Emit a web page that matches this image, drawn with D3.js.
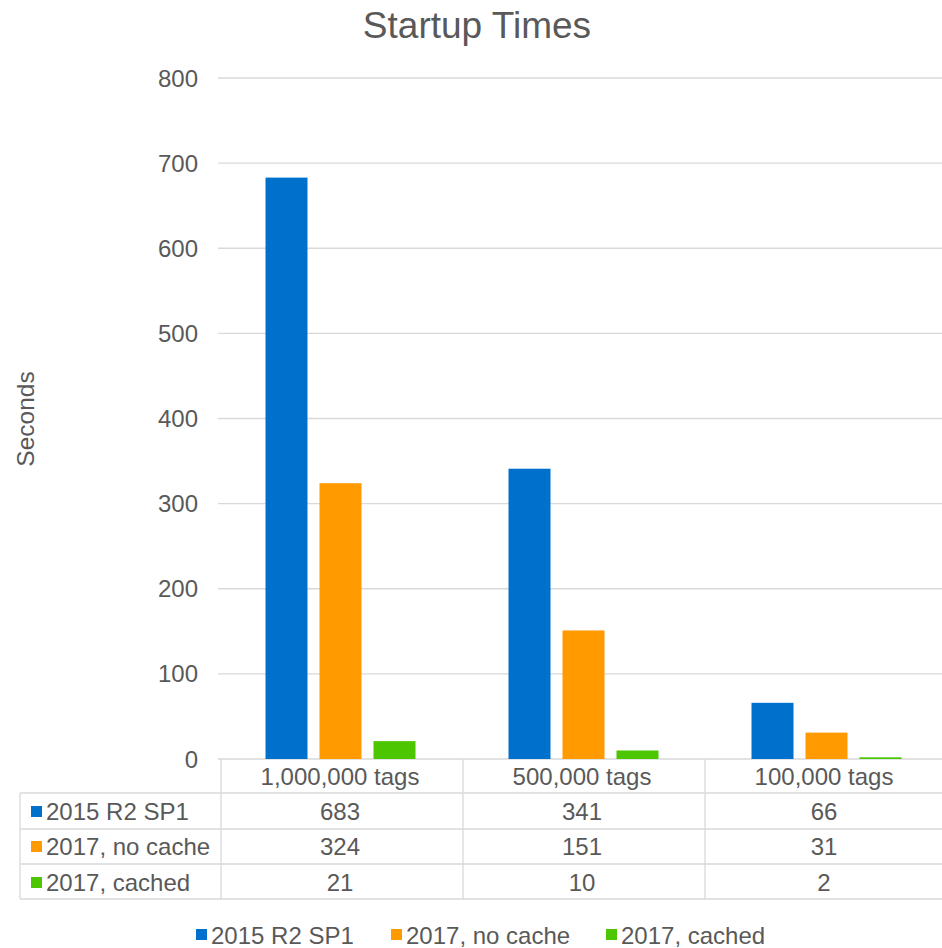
<!DOCTYPE html>
<html><head><meta charset="utf-8">
<script src="https://cdn.jsdelivr.net/npm/d3@7"></script>
<style>body{margin:0;background:#fff;}svg{display:block;font-family:"Liberation Sans",Arial,sans-serif;}</style>
</head><body>
<script>
const categories = ["1,000,000 tags", "500,000 tags", "100,000 tags"];
const seriesNames = ["2015 R2 SP1", "2017, no cache", "2017, cached"];
const values2015 = [683, 341, 66];
const valuesNoCache = [324, 151, 31];
const valuesCached = [21, 10, 2];
const colors = ["#0070CD", "#FF9A00", "#4CC600"];
const yTicks = [0, 100, 200, 300, 400, 500, 600, 700, 800];
const seriesValues = [values2015, valuesNoCache, valuesCached];

const W = 942, H = 948;
const svg = d3.select("body").append("svg").attr("width", W).attr("height", H);
const textColor = "#595959", gridColor = "#D9D9D9";
const FS = 24;

const y = d3.scaleLinear().domain([0, 800]).range([759, 78]);
const x = d3.scaleBand().domain(categories).range([221, 947]);          // table columns
const xb = d3.scaleBand().domain(categories).range([219, 948]);         // bar groups
const xi = d3.scaleBand().domain(seriesNames).range([0, 150]).paddingInner(12/54);

// title
svg.append("text").attr("x", 477).attr("y", 38).attr("text-anchor", "middle")
  .attr("font-size", 37).attr("fill", textColor).text("Startup Times");

// gridlines
svg.append("g").selectAll("line").data(yTicks).join("line")
  .attr("x1", 218).attr("x2", W).attr("y1", d => y(d)).attr("y2", d => y(d))
  .attr("stroke", gridColor).attr("stroke-width", 1.3);

// y axis labels
svg.append("g").selectAll("text").data(yTicks).join("text")
  .attr("x", 198).attr("y", d => y(d) + 8.5).attr("text-anchor", "end")
  .attr("font-size", FS).attr("fill", textColor).text(d => d);

svg.append("text").attr("transform", "translate(34,419) rotate(-90)")
  .attr("text-anchor", "middle").attr("font-size", 24.5).attr("fill", textColor).text("Seconds");

// bars
seriesNames.forEach((s, si) => {
  svg.append("g").selectAll("rect").data(categories).join("rect")
    .attr("x", c => xb(c) + xb.bandwidth()/2 - 75 + xi(s))
    .attr("width", xi.bandwidth())
    .attr("y", (c, i) => y(seriesValues[si][i]))
    .attr("height", (c, i) => y(0) - y(seriesValues[si][i]))
    .attr("fill", colors[si]);
});

// data table
const rowTop = [759, 793, 829, 864, 899];
const tg = svg.append("g");
tg.selectAll("line.h").data(rowTop.slice(1)).join("line")
  .attr("x1", 20).attr("x2", W).attr("y1", d => d).attr("y2", d => d)
  .attr("stroke", gridColor).attr("stroke-width", 1.3);
const colEdges = categories.map(c => x(c));
tg.selectAll("line.v").data(colEdges).join("line")
  .attr("x1", d => d).attr("x2", d => d).attr("y1", 759).attr("y2", 899)
  .attr("stroke", gridColor).attr("stroke-width", 1.3);
tg.append("line").attr("x1", 20).attr("x2", 20).attr("y1", 793).attr("y2", 899)
  .attr("stroke", gridColor).attr("stroke-width", 1.3);
tg.selectAll("text.hdr").data(categories).join("text")
  .attr("x", c => x(c) + x.bandwidth()/2 - 2).attr("y", 785).attr("text-anchor", "middle")
  .attr("font-size", FS).attr("fill", textColor).text(c => c);
const rowBase = [820, 855, 891];
seriesNames.forEach((s, si) => {
  const yy = rowBase[si];
  tg.append("rect").attr("x", 31).attr("y", yy - 14).attr("width", 11).attr("height", 11).attr("fill", colors[si]);
  tg.append("text").attr("x", 46).attr("y", yy).attr("font-size", FS).attr("fill", textColor).text(s);
  tg.append("g").selectAll("text").data(categories).join("text")
    .attr("x", c => x(c) + x.bandwidth()/2 - 2).attr("y", yy).attr("text-anchor", "middle")
    .attr("font-size", FS).attr("fill", textColor).text((c, i) => seriesValues[si][i]);
});

// legend
const legendX = [196, 391, 606];
const lg = svg.append("g");
seriesNames.forEach((s, si) => {
  lg.append("rect").attr("x", legendX[si]).attr("y", 929).attr("width", 11).attr("height", 11).attr("fill", colors[si]);
  lg.append("text").attr("x", legendX[si] + 15).attr("y", 944).attr("font-size", FS).attr("fill", textColor).text(s);
});
</script>
</body></html>
